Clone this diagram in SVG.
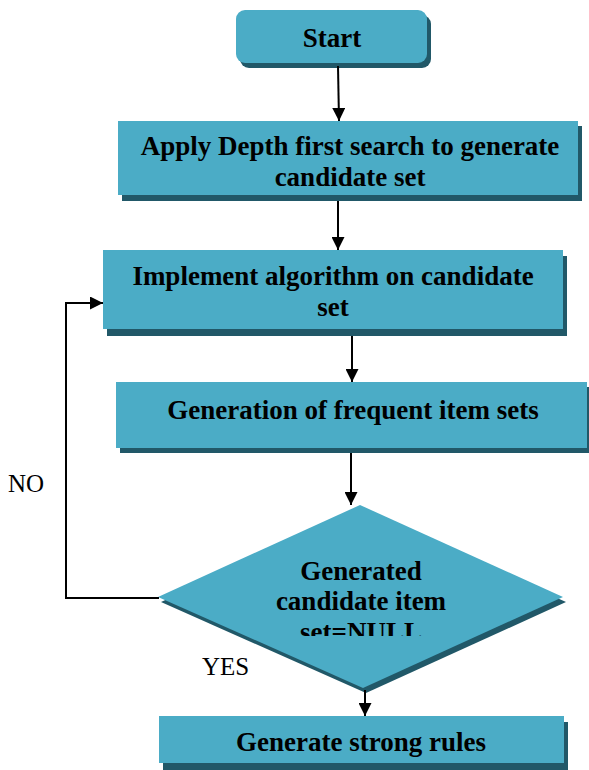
<svg xmlns="http://www.w3.org/2000/svg" width="589" height="770" viewBox="0 0 589 770">
<defs>
<style>
.box{fill:#4bacc6}
.sh{fill:#215868}
.t{font-family:'Liberation Serif','Times New Roman',Times,serif;font-weight:700;font-size:27px;fill:#000;text-anchor:middle}
.lbl{font-family:'Liberation Serif','Times New Roman',Times,serif;font-size:25px;fill:#000}
.c{fill:none;stroke:#000;stroke-width:2}
</style>
<marker id="ah" viewBox="0 0 10 10" refX="10" refY="5" markerWidth="7" markerHeight="6.5" markerUnits="strokeWidth" orient="auto">
<path d="M0,0 L10,5 L0,10 z" fill="#000"/>
</marker>
<clipPath id="dclip"><rect x="150" y="500" width="430" height="136"/></clipPath>
</defs>
<rect width="589" height="770" fill="#fff"/>
<g id="start">
<rect class="sh" x="240" y="15" width="191" height="53" rx="9"/>
<rect class="box" x="236" y="10" width="191" height="53" rx="9"/>
<text class="t" x="332" y="47">Start</text>
</g>
<g id="dfs">
<rect class="sh" x="122" y="126" width="460" height="75"/>
<rect class="box" x="118" y="121" width="460" height="74"/>
<text class="t" x="350" y="155">Apply Depth first search to generate</text>
<text class="t" x="350" y="186">candidate set</text>
</g>
<g id="implement">
<rect class="sh" x="107" y="256" width="460" height="80"/>
<rect class="box" x="103" y="250" width="460" height="79"/>
<text class="t" x="333" y="285">Implement algorithm on candidate</text>
<text class="t" x="333" y="316">set</text>
</g>
<g id="frequent">
<rect class="sh" x="120" y="387" width="470" height="66"/>
<rect class="box" x="116" y="382" width="471" height="66"/>
<text class="t" x="353" y="419">Generation of frequent item sets</text>
</g>
<g id="decision">
<polygon class="sh" points="363,510 566,602 366,693 161,602"/>
<polygon class="box" points="360,505 563,597 363,688 158,597"/>
<g clip-path="url(#dclip)">
<text class="t" x="361" y="580">Generated</text>
<text class="t" x="361" y="610">candidate item</text>
<text class="t" x="361" y="641">set=NULL</text>
</g>
</g>
<g id="rules">
<rect class="sh" x="163" y="722" width="405" height="48"/>
<rect class="box" x="159" y="716" width="405" height="47"/>
<text class="t" x="361" y="751">Generate strong rules</text>
</g>
<g id="connectors">
<line class="c" x1="338" y1="66" x2="339" y2="121" marker-end="url(#ah)"/>
<line class="c" x1="338" y1="201" x2="338" y2="250" marker-end="url(#ah)"/>
<line class="c" x1="352" y1="336" x2="352" y2="382" marker-end="url(#ah)"/>
<line class="c" x1="351" y1="453" x2="351" y2="505" marker-end="url(#ah)"/>
<line class="c" x1="365" y1="690" x2="365" y2="716" marker-end="url(#ah)"/>
<polyline class="c" points="159,598 66,598 66,303 103,303" marker-end="url(#ah)"/>
</g>
<g id="labels">
<text class="lbl" x="8" y="492">NO</text>
<text class="lbl" x="202" y="675">YES</text>
</g>
</svg>
